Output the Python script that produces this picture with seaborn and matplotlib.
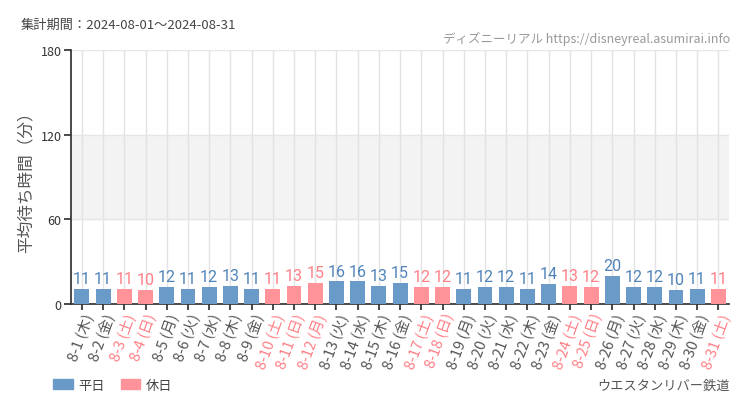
import pandas as pd
import matplotlib.pyplot as plt
import seaborn as sns
from matplotlib.patches import Patch

# data
dates = [f"8-{d}" for d in range(1, 32)]
weekdays = ["木", "金", "土", "日", "月", "火", "水", "木", "金", "土", "日", "月", "火", "水", "木",
            "金", "土", "日", "月", "火", "水", "木", "金", "土", "日", "月", "火", "水", "木", "金", "土"]
wait_min = [11, 11, 11, 10, 12, 11, 12, 13, 11, 11, 13, 15, 16, 16, 13,
            15, 12, 12, 11, 12, 12, 11, 14, 13, 12, 20, 12, 12, 10, 11, 11]
holidays = ["8-3", "8-4", "8-10", "8-11", "8-12", "8-17", "8-18", "8-24", "8-25", "8-31"]

labels = [f"{d} ({w})" for d, w in zip(dates, weekdays)]
df = pd.DataFrame({
    "label": labels,
    "wait": wait_min,
    "type": ["休日" if d in holidays else "平日" for d in dates],
})

blue = "#6a9ac7"
pink = "#ff9399"
blue_txt = "#4f83b9"
pink_txt = "#ff7f86"

sns.set_theme(style="white")
plt.rcParams['font.family'] = ['Noto Sans CJK JP', 'DejaVu Sans']

fig = plt.figure(figsize=(7.5, 4.1), dpi=100)
ax = fig.add_axes([0.095, 0.256, 0.877, 0.62])

ax.axhspan(60, 120, color="#f3f3f3", zorder=0)
sns.barplot(data=df, x="label", y="wait", hue="type", palette={"平日": blue, "休日": pink},
            dodge=False, width=0.7, saturation=1, linewidth=0, legend=False, ax=ax, zorder=3)

ax.set_ylim(0, 180)
ax.set_xlim(-0.5, 30.5)
ax.set_yticks([0, 60, 120, 180])
ax.tick_params(axis="y", labelsize=9, colors="#333333", length=5, direction="out", left=True, pad=2)
ax.tick_params(axis="x", length=4, direction="out", bottom=True, colors="#333333", pad=1)
ax.set_xticks(range(len(labels)))
ax.set_xticklabels(labels, rotation=70, ha="right", rotation_mode="anchor", fontsize=10.5)
for lbl, d in zip(ax.get_xticklabels(), dates):
    lbl.set_color(pink_txt if d in holidays else "#555555")

ax.grid(axis="x", color="#e3e3e3", linewidth=1, zorder=1)
ax.grid(axis="y", color="#e6e6e6", linewidth=1, zorder=1)
ax.set_axisbelow(True)
for s in ["top", "right"]:
    ax.spines[s].set_visible(False)
ax.spines["left"].set_color("#333333")
ax.spines["bottom"].set_color("#333333")
ax.set_xlabel("")
ax.set_ylabel("平均待ち時間（分）", fontsize=12, color="#555555", labelpad=4)

# value labels
for i, (v, d) in enumerate(zip(wait_min, dates)):
    ax.text(i, v + 2, str(v), ha="center", va="bottom", fontsize=11.5,
            family=["Roboto", "DejaVu Sans"], stretch="condensed",
            color=pink_txt if d in holidays else blue_txt, zorder=4)

fig.text(0.027, 0.937, "集計期間：2024-08-01～2024-08-31", fontsize=9.5, color="#444444", va="center")
fig.text(0.973, 0.905, "ディズニーリアル https://disneyreal.asumirai.info", fontsize=9,
         color="#999999", ha="right", va="center", stretch="condensed")
fig.text(0.973, 0.058, "ウエスタンリバー鉄道", fontsize=9.5, color="#555555", ha="right", va="center")

handles = [Patch(color=blue, label="平日"), Patch(color=pink, label="休日")]
fig.legend(handles=handles, loc="center left", bbox_to_anchor=(0.055, 0.058), ncol=2,
           frameon=False, fontsize=9.5, handlelength=1.5, handleheight=0.8,
           columnspacing=1.2, handletextpad=0.4, labelcolor="#444444")

fig.savefig("out.png", dpi=100)
